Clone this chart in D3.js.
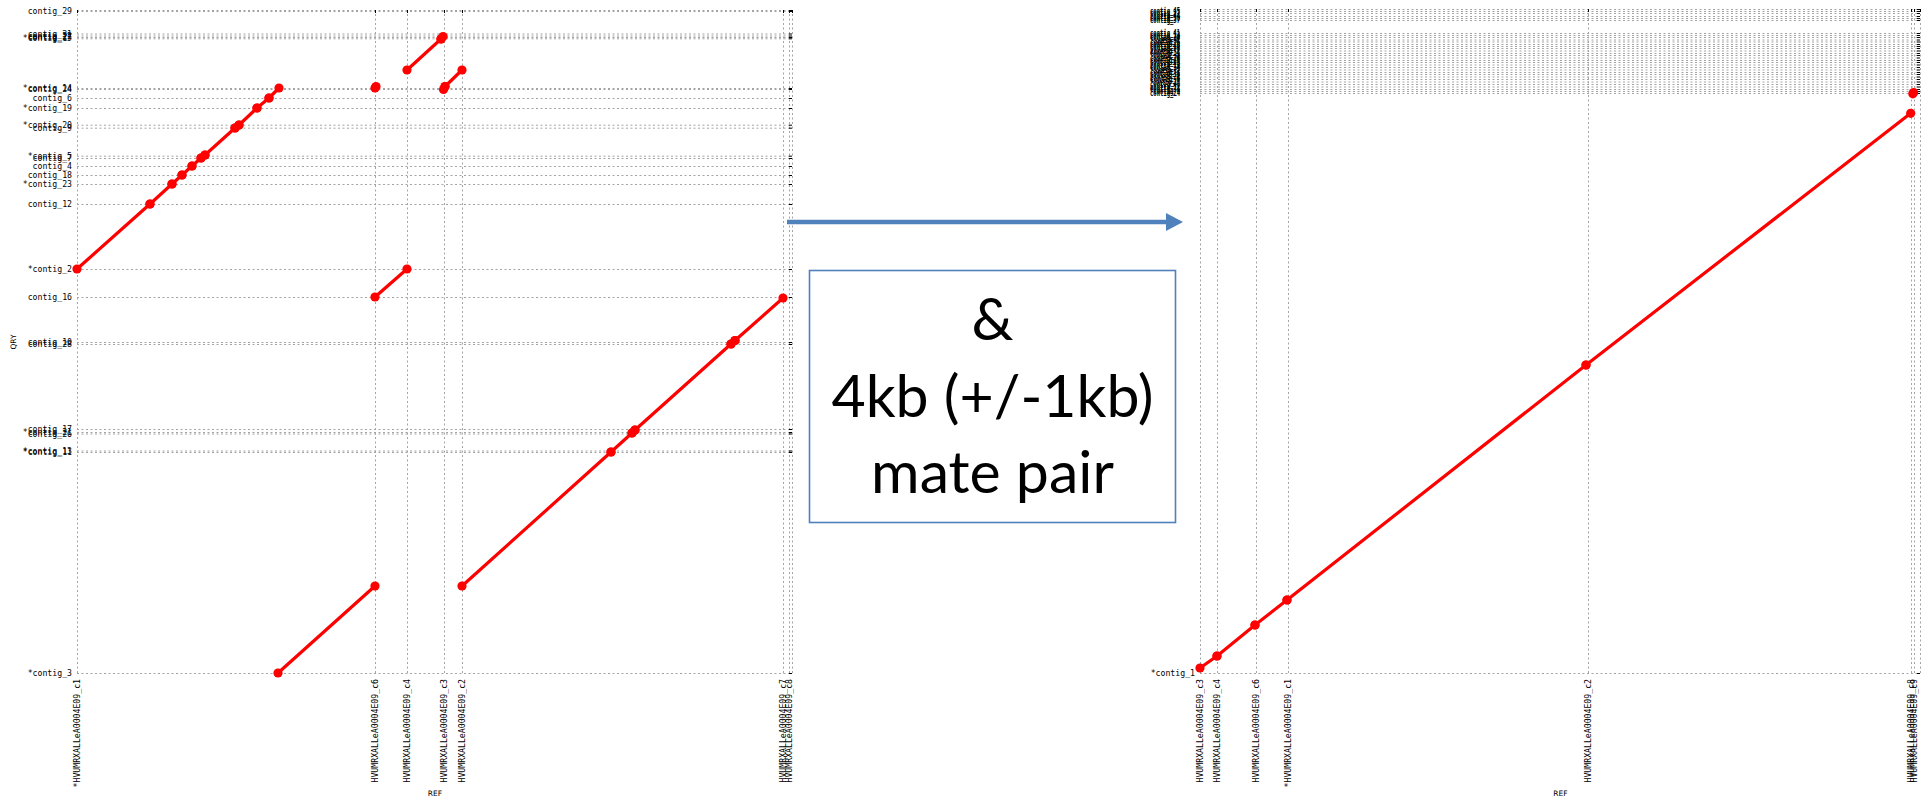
<!DOCTYPE html>
<html>
<head>
<meta charset="utf-8">
<script src="https://cdn.jsdelivr.net/npm/d3@7"></script>
<style>
  body { margin: 0; background: #fff; }
  svg { display: block; }
</style>
</head>
<body>
<script>
// ---------------------------------------------------------------
// Dot plots of query contigs (QRY) against reference scaffolds (REF).
// Positions are cumulative offsets in kb along each axis.
// ---------------------------------------------------------------

// Left plot: reference sequences and their start offsets
const leftRefNames = [
  "*HVUMRXALLeA0004E09_c1", "HVUMRXALLeA0004E09_c6", "HVUMRXALLeA0004E09_c4",
  "HVUMRXALLeA0004E09_c3", "HVUMRXALLeA0004E09_c2", "HVUMRXALLeA0004E09_c7",
  "HVUMRXALLeA0004E09_c8"
];
const leftRefStarts = [0, 298, 330, 367, 385, 706, 712];
const leftRefEnd = 715;

// Left plot: query contigs and their start offsets
const leftQryNames = [
  "*contig_3", "*contig_11", "*contig_13", "contig_26", "*contig_21", "contig_17",
  "contig_28", "contig_10", "contig_16", "*contig_2", "contig_12", "*contig_23",
  "contig_18", "contig_4", "contig_7", "*contig_5", "contig_9", "*contig_20",
  "*contig_19", "contig_6", "contig_24", "*contig_14", "*contig_15", "contig_27",
  "contig_22", "contig_31", "contig_29"
];
const leftQryStarts = [
  0, 221, 222.5, 239.5, 241, 244,
  329, 331, 376, 404, 469, 489,
  498, 507, 515, 517.3, 545.3, 548.3,
  565, 575, 584, 585, 634.7, 636,
  637.5, 639.5, 662
];
const leftQryEnd = 663;

// Left plot: alignments [refFrom, qryFrom, refTo, qryTo]
const leftAlignments = [
  [0, 404, 73, 469], [73, 469, 95, 489], [95, 489, 105, 498], [105, 498, 115, 507],
  [115, 507, 124, 515], [124, 515, 128, 518], [128, 518, 158, 545], [158, 545, 162, 548],
  [162, 548, 180, 565], [180, 565, 192, 575], [192, 575, 202, 585],
  [298, 585, 299, 586.5],
  [330, 603, 364, 634], [364, 634, 366, 636.5],
  [366.5, 583.5, 368, 586.5], [368, 586.5, 385, 603],
  [298, 376, 330, 404],
  [201, 0, 298, 87],
  [385, 87, 534, 221], [534, 221, 555, 240], [555, 240, 558, 243],
  [558, 243, 654, 329], [654, 329, 658, 332.5], [658, 332.5, 706, 375]
];

// Right plot: reference sequences and their start offsets
const rightRefNames = [
  "HVUMRXALLeA0004E09_c3", "HVUMRXALLeA0004E09_c4", "HVUMRXALLeA0004E09_c6",
  "*HVUMRXALLeA0004E09_c1", "HVUMRXALLeA0004E09_c2", "HVUMRXALLeA0004E09_c8",
  "HVUMRXALLeA0004E09_c9"
];
const rightRefStarts = [0, 17, 56, 88, 388, 711, 714];
const rightRefEnd = 720;

// Right plot: query contigs and their start offsets
const rightQryNames = [
  "*contig_1",
  "contig_24", "*contig_9", "contig_31", "contig_12", "contig_40", "*contig_17",
  "contig_6", "contig_28", "contig_35", "contig_3", "*contig_22", "contig_14",
  "contig_19", "contig_43", "contig_8", "contig_26", "*contig_33", "contig_11",
  "contig_2", "contig_38", "contig_16", "contig_29", "contig_5", "*contig_42",
  "contig_20", "contig_13", "contig_41",
  "contig_37", "contig_30", "contig_44", "contig_27", "contig_45"
];
const rightQryStarts = [
  0,
  580, 582, 584, 586.5, 589, 591.5,
  594, 596.5, 599, 601, 603.5, 606,
  608.5, 611, 613, 615.5, 618, 620,
  622.5, 625, 627, 629, 631.5, 633.5,
  636, 638, 640,
  653, 655, 657, 660, 662
];
const rightQryEnd = 664;

// Right plot: alignments [refFrom, qryFrom, refTo, qryTo]
const rightAlignments = [
  [0, 5, 17, 17], [17, 17, 55, 48], [55, 48, 87, 73],
  [87, 73, 386, 308], [386, 308, 710.7, 559.7],
  [712.8, 579.2, 713.6, 580.4]
];

// Caption between the two plots
const noteLines = ["&", "4kb (+/-1kb)", "mate pair"];

// ---------------------------------------------------------------
const W = 1929, H = 800;
const svg = d3.select("body").append("svg").attr("width", W).attr("height", H);
svg.append("rect").attr("width", W).attr("height", H).attr("fill", "#fff");

const MONO = "'DejaVu Sans Mono', 'Liberation Mono', monospace";
const GRID = "#a4a4a4";

function dotPlot(o) {
  const x = d3.scaleLinear().domain([0, o.refEnd]).range(o.xRange);
  const y = d3.scaleLinear().domain([0, o.qryEnd]).range(o.yRange);
  const pw = o.xRange[1] - o.xRange[0];
  const ph = o.yRange[0] - o.yRange[1];
  const xTicks = o.refStarts.concat([o.refEnd]);
  const yTicks = o.qryStarts.concat([o.qryEnd]);
  const g = svg.append("g");

  // vertical grid + REF labels
  const xa = g.append("g")
    .attr("transform", `translate(0,${o.yRange[0]})`)
    .call(d3.axisBottom(x).tickValues(xTicks).tickSize(-ph).tickPadding(6)
      .tickFormat((d, i) => o.refNames[i] || ""));
  // horizontal grid + QRY labels
  const ya = g.append("g")
    .attr("transform", `translate(${o.xRange[0]},0)`)
    .call(d3.axisLeft(y).tickValues(yTicks).tickSize(-pw).tickPadding(5)
      .tickFormat((d, i) => o.qryNames[i] || ""));

  [xa, ya].forEach(a => {
    a.select(".domain").remove();
    a.attr("font-family", MONO).attr("font-size", 8.2);
    a.selectAll(".tick line")
      .attr("stroke", GRID).attr("stroke-width", 1).attr("stroke-dasharray", "2,2.5");
    a.selectAll(".tick text").attr("fill", "#000");
  });
  xa.selectAll(".tick text")
    .attr("transform", "rotate(-90)")
    .attr("x", -6).attr("y", 0).attr("dy", "0.33em")
    .attr("text-anchor", "end");

  if (o.condense) {
    // crowded contig labels are squeezed to a fixed width
    ya.selectAll(".tick text")
      .filter((d, i) => i > 0 && i < o.qryNames.length)
      .attr("x", -20)
      .attr("font-weight", "bold")
      .attr("textLength", 30)
      .attr("lengthAdjust", "spacingAndGlyphs");
  }

  // mirrored tick marks on the right and top borders
  const ry = g.append("g").attr("transform", `translate(${o.xRange[1]},0)`)
    .call(d3.axisLeft(y).tickValues(yTicks).tickSize(3).tickFormat(""));
  const tx = g.append("g").attr("transform", `translate(0,${o.yRange[1]})`)
    .call(d3.axisBottom(x).tickValues(xTicks).tickSize(3).tickFormat(""));
  [ry, tx].forEach(a => {
    a.select(".domain").remove();
    a.selectAll(".tick line").attr("stroke", "#000");
  });

  // alignments
  g.append("g").selectAll("line").data(o.aligns).join("line")
    .attr("x1", d => x(d[0])).attr("y1", d => y(d[1]))
    .attr("x2", d => x(d[2])).attr("y2", d => y(d[3]))
    .attr("stroke", "#ff0000").attr("stroke-width", 3.2)
    .attr("stroke-linecap", "round");
  const ends = o.aligns.flatMap(d => [[d[0], d[1]], [d[2], d[3]]]);
  g.append("g").selectAll("circle").data(ends).join("circle")
    .attr("cx", d => x(d[0])).attr("cy", d => y(d[1])).attr("r", 4.6)
    .attr("fill", "#ff0000");

  // axis titles
  g.append("text").text("REF")
    .attr("x", (o.xRange[0] + o.xRange[1]) / 2 + 0.5).attr("y", 796)
    .attr("text-anchor", "middle")
    .attr("font-family", "'DejaVu Sans', sans-serif").attr("font-size", 7.5);
  g.append("text").text("QRY")
    .attr("transform", `translate(${o.qryTitleX},342) rotate(-90)`)
    .attr("text-anchor", "middle")
    .attr("font-family", "'DejaVu Sans', sans-serif").attr("font-size", 7.5);
}

dotPlot({
  refNames: leftRefNames, refStarts: leftRefStarts, refEnd: leftRefEnd,
  qryNames: leftQryNames, qryStarts: leftQryStarts, qryEnd: leftQryEnd,
  aligns: leftAlignments,
  xRange: [77, 792], yRange: [673, 10], qryTitleX: 16
});

dotPlot({
  refNames: rightRefNames, refStarts: rightRefStarts, refEnd: rightRefEnd,
  qryNames: rightQryNames, qryStarts: rightQryStarts, qryEnd: rightQryEnd,
  aligns: rightAlignments,
  xRange: [1200, 1920], yRange: [673, 9], qryTitleX: 1145, condense: true
});

// ---- arrow and caption box between the plots ----
const BLUE = "#4f81bd";
const arrow = svg.append("g");
arrow.append("line")
  .attr("x1", 787).attr("y1", 222).attr("x2", 1168).attr("y2", 222)
  .attr("stroke", BLUE).attr("stroke-width", 4.5);
arrow.append("path")
  .attr("d", "M1166,213 L1183,222 L1166,231 Z")
  .attr("fill", BLUE);

svg.append("rect")
  .attr("x", 809.5).attr("y", 270.5).attr("width", 366).attr("height", 252)
  .attr("fill", "#fff").attr("stroke", BLUE).attr("stroke-width", 1.6);

svg.append("g").selectAll("text").data(noteLines).join("text")
  .text(d => d)
  .attr("x", 992.5)
  .attr("y", (d, i) => 340 + i * 76.5)
  .attr("text-anchor", "middle")
  .attr("font-family", "Lato, 'Open Sans', sans-serif")
  .attr("font-size", 59)
  .attr("fill", "#000");
</script>
</body>
</html>
